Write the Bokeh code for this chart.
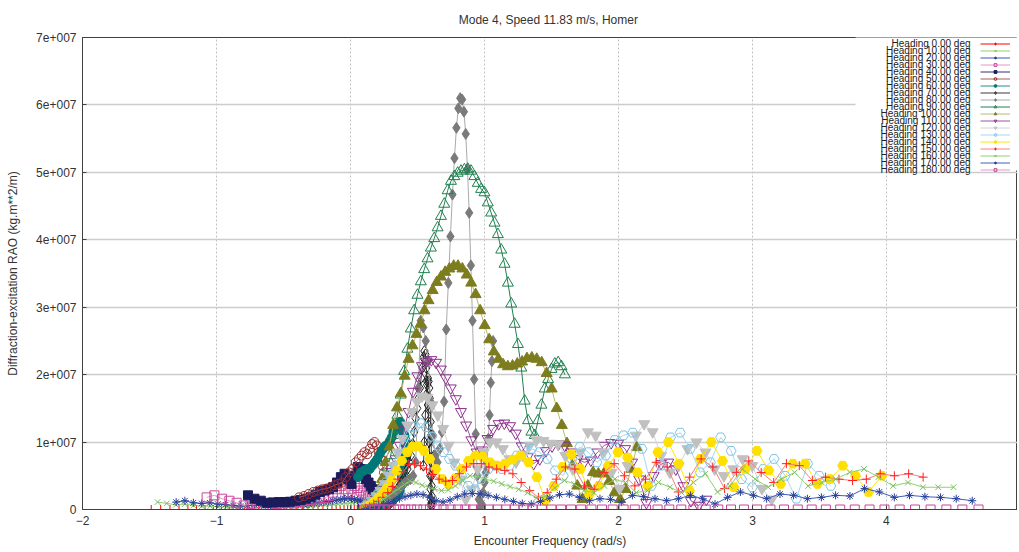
import math
from bokeh.plotting import figure
from bokeh.models import (FixedTicker, CustomJSTickFormatter, Legend, LegendItem,
                          Label, BoxAnnotation)
from bokeh.embed import file_html
from bokeh.resources import INLINE

# ---------------- data ----------------
TITLE = "Mode 4,  Speed 11.83 m/s, Homer"
X_LABEL = "Encounter Frequency (rad/s)"
Y_LABEL = "Diffraction-excitation RAO (kg.m**2/m)"
SHIP_SPEED = 11.83      # m/s
GRAVITY = 9.81
X_TICKS = [-2, -1, 0, 1, 2, 3, 4]
Y_TICKS = [0, 1e7, 2e7, 3e7, 4e7, 5e7, 6e7, 7e7]

WAVE_FREQ = [0.100, 0.125, 0.150, 0.175, 0.200, 0.225, 0.250, 0.275, 0.300, 0.325,
             0.350, 0.375, 0.400, 0.425, 0.450, 0.475, 0.500, 0.525, 0.550, 0.575,
             0.600, 0.625, 0.650, 0.675, 0.700, 0.725, 0.750, 0.775, 0.800, 0.825,
             0.850, 0.875, 0.900, 0.925, 0.950, 0.975, 1.000, 1.025, 1.050, 1.075,
             1.100, 1.125, 1.150, 1.175, 1.200, 1.225, 1.250, 1.275, 1.300, 1.325,
             1.350, 1.375, 1.400, 1.425, 1.450, 1.475, 1.500, 1.525, 1.550, 1.575,
             1.600]

HEADINGS = [0, 10, 20, 30, 40, 50, 60, 70, 80, 90, 100, 110, 120, 130, 140, 150, 160, 170, 180]

# RAO amplitude in units of 1e6 kg.m**2/m, one value per wave frequency
rao_h000 = [0, 0, 0, 0, 0, 0, 0, 0, 0, 0, 0, 0, 0, 0, 0, 0, 0, 0, 0, 0,
            0, 0, 0, 0, 0, 0, 0, 0, 0, 0, 0, 0, 0, 0, 0, 0, 0, 0, 0, 0,
            0, 0, 0, 0, 0, 0, 0, 0, 0, 0, 0, 0, 0, 0, 0, 0, 0, 0, 0, 0, 0]
rao_h010 = [0.05, 0.08, 0.1, 0.15, 0.2, 0.25, 0.3, 0.35, 0.4, 0.45, 0.5, 0.55, 0.6, 0.65, 0.7, 0.75, 0.8, 0.85, 0.9, 0.95,
            1.0, 1.05, 1.1, 1.1, 1.15, 1.2, 1.2, 1.15, 1.1, 1.0, 0.95, 0.9, 0.85, 0.8, 0.75, 0.7, 0.65, 0.6, 0.55, 0.5,
            0.45, 0.4, 0.4, 0.35, 0.35, 0.3, 0.3, 0.3, 0.3, 0.35, 0.4, 0.45, 0.4, 0.4, 0.5, 0.5, 0.6, 0.8, 0.7, 0.9, 1.1]
rao_h020 = [0.05, 0.08, 0.1, 0.15, 0.2, 0.25, 0.3, 0.35, 0.4, 0.45, 0.5, 0.55, 0.6, 0.65, 0.7, 0.75, 0.8, 0.85, 0.9, 0.9,
            0.95, 0.95, 1.0, 1.0, 1.0, 1.05, 1.1, 1.2, 1.3, 1.4, 1.5, 1.6, 1.7, 1.6, 1.5, 1.4, 1.3, 1.2, 1.1, 1.0,
            0.9, 0.8, 0.7, 0.8, 0.8, 0.7, 0.6, 0.5, 0.5, 0.6, 0.7, 0.6, 0.5, 0.6, 0.7, 0.8, 1.0, 0.9, 1.0, 1.3, 1.1]
rao_h030 = [0.1, 0.15, 0.2, 0.25, 0.3, 0.35, 0.4, 0.45, 0.5, 0.55, 0.6, 0.62, 0.64, 0.66, 0.68, 0.7, 0.7, 0.7, 0.7, 0.7,
            0.7, 0.8, 0.9, 1.0, 1.2, 1.4, 1.6, 1.8, 2.0, 2.2, 2.5, 2.8, 3.2, 3.5, 3.0, 2.5, 3.0, 3.5, 3.0, 2.5,
            2.0, 1.7, 1.6, 1.5, 1.4, 1.3, 1.1, 0.9, 1.0, 0.9, 0.8, 0.6, 0.5, 0.7, 0.8, 0.6, 1.0, 1.3, 1.6, 2.1, 1.8]
rao_h040 = [0.1, 0.15, 0.2, 0.25, 0.3, 0.35, 0.4, 0.45, 0.5, 0.55, 0.6, 0.65, 0.7, 0.75, 0.8, 0.85, 0.9, 1.0, 1.1, 1.2,
            1.3, 1.4, 1.5, 1.6, 1.7, 1.8, 1.9, 2.0, 2.0, 2.2, 2.5, 3.0, 3.5, 4.0, 4.5, 5.5, 6.0, 6.3, 5.0, 3.8,
            4.5, 5.3, 4.8, 4.0, 3.3, 3.0, 2.8, 2.6, 2.2, 1.8, 1.6, 1.4, 1.3, 1.15, 1.1, 1.1, 1.05, 1.0, 1.3, 1.6, 2.1]
rao_h050 = [0.1, 0.15, 0.2, 0.25, 0.3, 0.35, 0.4, 0.45, 0.5, 0.55, 0.6, 0.7, 0.8, 0.9, 1.0, 1.1, 1.2, 1.3, 1.4, 1.5,
            1.6, 1.7, 1.8, 1.9, 2.0, 2.1, 2.2, 2.3, 2.4, 2.7, 3.0, 3.5, 4.0, 4.5, 5.5, 6.5, 7.5, 8.5, 9.5, 10.0,
            9.7, 9.0, 8.2, 8.5, 8.0, 7.5, 7.0, 6.0, 5.5, 4.8, 4.0, 3.8, 3.6, 3.3, 3.1, 3.0, 2.8, 2.6, 2.3, 2.0, 1.8]
rao_h060 = [0.1, 0.2, 0.3, 0.4, 0.5, 0.6, 0.7, 0.8, 0.9, 1.0, 1.1, 1.2, 1.3, 1.5, 1.7, 1.9, 2.1, 2.4, 2.8, 3.5,
            4.8, 5.5, 6.0, 6.5, 6.8, 7.2, 7.6, 8.0, 8.4, 8.8, 9.2, 9.6, 10.0, 10.3, 10.7, 11.0, 11.2, 11.5, 12.0, 12.5,
            13.0, 12.8, 12.7, 12.5, 12.2, 11.5, 10.7, 10.2, 9.7, 9.5, 9.2, 8.8, 8.2, 7.5, 7.0, 6.5, 6.0, 6.0, 5.8, 5.5, 4.8]
rao_h070 = [0.1, 0.2, 0.3, 0.4, 0.5, 0.7, 0.9, 1.1, 1.3, 1.6, 1.9, 2.2, 2.6, 3.0, 3.5, 4.0, 4.6, 5.2, 6.0, 7.0,
            8.0, 9.7, 11.5, 13.5, 15.0, 16.5, 18.0, 19.5, 21.0, 22.5, 23.5, 23.0, 21.0, 18.5, 15.5, 12.5, 10.0, 7.5, 5.0, 3.0,
            1.5, 0.8, 0.5, 1.0, 2.0, 3.5, 5.0, 7.0, 9.0, 11.0, 13.0, 15.0, 16.5, 18.0, 19.0, 19.5, 19.0, 17.0, 14.0, 10.0, 6.5]
rao_h080 = [0.1, 0.2, 0.3, 0.5, 0.7, 0.9, 1.1, 1.4, 1.7, 2.0, 2.4, 2.8, 3.2, 3.6, 4.0, 4.3, 4.5, 5.0, 7.0, 18.0,
            28.0, 27.0, 25.0, 22.0, 16.0, 11.0, 8.0, 7.0, 9.0, 11.5, 16.0, 26.7, 33.6, 40.5, 46.7, 52.1, 56.6, 59.5, 61.0, 60.8,
            59.0, 55.7, 50.5, 44.0, 36.2, 28.0, 19.3, 11.2, 5.0, 1.5, 0.3, 0.8, 2.5, 4.0, 5.5, 7.0, 10.5, 14.0, 18.8, 22.0, 25.0]
rao_h090 = [0.3, 0.5, 0.9, 1.5, 2.3, 3.3, 4.6, 6.2, 8.0, 11.0, 14.0, 17.0, 20.5, 23.8, 26.8, 29.5, 31.8, 33.8, 35.6, 37.2,
            38.8, 40.2, 41.8, 43.5, 45.3, 47.3, 48.7, 49.4, 49.9, 50.2, 50.4, 50.5, 50.2, 49.4, 48.4, 47.5, 47.0, 45.5, 44.0, 42.5,
            40.8, 38.5, 36.4, 33.6, 30.5, 27.5, 24.5, 21.0, 16.1, 13.2, 11.5, 11.0, 13.2, 15.5, 17.9, 19.3, 20.8, 21.6, 21.8, 21.2, 20.0]
rao_h100 = [0.5, 0.8, 1.3, 2.0, 2.8, 4.5, 7.0, 9.3, 12.5, 15.1, 17.2, 19.8, 22.3, 24.3, 26.0, 27.5, 29.5, 31.0, 32.5, 33.7,
            34.5, 35.2, 35.7, 36.1, 36.1, 35.7, 34.8, 33.6, 31.9, 29.5, 27.3, 25.2, 23.4, 22.3, 21.5, 21.2, 21.3, 21.6, 21.9, 22.4,
            22.5, 22.3, 21.8, 20.2, 17.9, 15.0, 12.5, 9.8, 6.5, 3.5, 1.5, 3.5, 5.5, 5.3, 5.3, 4.2, 2.5, 1.5, 3.0, 6.0, 9.2]
rao_h110 = [0.3, 0.5, 0.9, 1.4, 2.0, 2.9, 4.0, 5.6, 7.5, 9.5, 11.8, 14.5, 17.5, 19.8, 21.3, 22.0, 22.2, 21.8, 20.8, 19.5,
            18.0, 16.4, 14.5, 12.5, 10.3, 8.5, 8.8, 10.5, 12.0, 12.7, 12.8, 12.4, 11.3, 9.4, 7.8, 6.8, 7.5, 8.7, 9.4, 9.7,
            9.5, 8.5, 7.5, 7.0, 7.3, 8.5, 9.5, 9.9, 9.8, 9.0, 7.0, 4.5, 1.0, 5.0, 6.8, 7.0, 6.0, 3.5, 1.3, 0.6, 1.5]
rao_h120 = [0.4, 0.8, 1.3, 2.0, 2.8, 3.8, 5.0, 6.5, 8.5, 10.5, 12.5, 14.5, 16.0, 16.8, 16.6, 15.5, 14.0, 12.0, 9.5, 7.0,
            4.5, 1.5, 3.0, 6.0, 8.5, 10.0, 10.0, 9.0, 7.5, 7.0, 8.0, 9.5, 10.3, 10.2, 9.8, 9.7, 8.0, 6.0, 8.5, 11.5,
            11.0, 8.5, 5.5, 3.1, 6.5, 11.0, 12.7, 11.5, 8.0, 5.5, 6.5, 9.0, 10.0, 8.5, 6.0, 5.0, 6.0, 7.5, 6.5, 3.1, 1.5]
rao_h130 = [0.5, 1.0, 1.5, 2.2, 3.0, 4.0, 5.2, 6.5, 8.0, 9.5, 11.0, 12.3, 12.8, 12.2, 10.8, 9.5, 8.5, 7.5, 6.5, 5.0,
            3.5, 3.0, 4.5, 6.0, 6.5, 6.0, 6.5, 8.0, 9.2, 9.0, 8.5, 7.5, 5.8, 5.0, 7.5, 9.3, 8.5, 7.0, 8.0, 10.3,
            11.0, 11.4, 9.0, 3.5, 6.5, 10.7, 11.4, 9.0, 5.5, 7.0, 10.7, 8.7, 4.5, 3.3, 6.0, 7.5, 5.0, 1.6, 6.8, 5.0, 3.5]
rao_h140 = [0.3, 0.6, 1.0, 1.6, 2.3, 3.2, 4.3, 5.7, 7.2, 8.5, 9.3, 9.4, 8.7, 7.5, 6.0, 4.5, 3.8, 4.6, 6.0, 7.2,
            8.0, 7.8, 7.0, 6.5, 6.8, 7.4, 8.0, 7.0, 4.8, 1.3, 3.5, 6.3, 8.2, 6.0, 2.3, 3.5, 6.5, 8.5, 7.7, 5.5,
            3.5, 8.5, 10.0, 6.8, 2.8, 7.5, 10.0, 7.2, 3.3, 6.0, 8.7, 5.8, 3.8, 6.8, 6.8, 3.8, 4.5, 6.5, 5.0, 2.6, 5.0]
rao_h150 = [0.2, 0.4, 0.8, 1.2, 1.8, 2.5, 3.4, 4.5, 5.6, 6.7, 6.8, 6.5, 6.0, 5.2, 4.5, 4.2, 4.3, 5.3, 6.3, 6.8,
            6.8, 6.3, 6.0, 5.8, 5.3, 4.0, 2.8, 1.8, 2.5, 4.5, 6.3, 6.0, 3.5, 3.0, 5.5, 6.8, 5.0, 3.5, 4.5, 7.0,
            6.3, 2.6, 4.8, 7.5, 6.3, 3.1, 5.5, 7.2, 5.5, 4.0, 6.8, 6.5, 4.3, 4.8, 4.5, 4.3, 4.5, 5.3, 5.0, 5.3, 4.8]
rao_h160 = [0.2, 0.4, 0.7, 1.0, 1.5, 2.0, 2.6, 3.1, 3.7, 4.2, 4.0, 3.6, 3.3, 3.0, 2.8, 2.9, 3.5, 4.3, 5.0, 4.9,
            4.5, 4.2, 3.8, 3.4, 3.0, 2.5, 1.7, 2.0, 3.2, 4.3, 3.8, 2.8, 2.5, 3.5, 4.5, 4.0, 2.5, 2.8, 4.0, 3.3,
            2.5, 4.0, 5.3, 2.6, 3.5, 6.0, 4.5, 3.3, 4.5, 5.5, 3.5, 4.0, 4.5, 5.5, 6.0, 4.8, 3.5, 4.0, 3.3, 3.3, 3.3]
rao_h170 = [0.1, 0.2, 0.3, 0.5, 0.7, 0.9, 1.2, 1.6, 1.9, 2.1, 2.3, 2.2, 1.8, 1.3, 1.1, 1.4, 1.9, 2.3, 2.4, 2.3,
            2.1, 1.8, 1.5, 1.2, 0.9, 0.8, 1.2, 1.7, 2.2, 2.3, 1.8, 1.3, 1.6, 1.5, 1.1, 2.1, 1.9, 1.6, 1.3, 1.6,
            2.1, 1.6, 0.8, 1.8, 2.6, 2.1, 1.6, 2.3, 2.1, 1.6, 1.8, 2.1, 2.0, 3.1, 2.6, 1.8, 2.1, 1.9, 1.8, 1.6, 1.3]
rao_h180 = [0, 0, 0, 0, 0, 0, 0, 0, 0, 0, 0, 0, 0, 0, 0, 0, 0, 0, 0, 0,
            0, 0, 0, 0, 0, 0, 0, 0, 0, 0, 0, 0, 0, 0, 0, 0, 0, 0, 0, 0,
            0, 0, 0, 0, 0, 0, 0, 0, 0, 0, 0, 0, 0, 0, 0, 0, 0, 0, 0, 0, 0]

RAO = [rao_h000, rao_h010, rao_h020, rao_h030, rao_h040, rao_h050, rao_h060, rao_h070, rao_h080, rao_h090,
       rao_h100, rao_h110, rao_h120, rao_h130, rao_h140, rao_h150, rao_h160, rao_h170, rao_h180]

# ---------------- styles ----------------
# (line colour, marker, marker colour, filled, size)
STYLES = [
    ("#ff0000", "cross", "#ff0000", False, 9),
    ("#8fcf6f", "x", "#7cc060", False, 8),
    ("#3a58b0", "asterisk", "#2a3f9a", False, 8),
    ("#e498c8", "square", "#c8479a", False, 9),
    ("#30306e", "square", "#1c1c5c", True, 9),
    ("#a85a5a", "circle", "#9a2a2a", False, 9),
    ("#209090", "circle", "#007878", True, 9),
    ("#3a3a3a", "diamond", "#202020", False, 11),
    ("#aaaaaa", "diamond", "#7a7a7a", True, 11),
    ("#208050", "triangle", "#208050", False, 11),
    ("#b8b870", "triangle", "#7d7d1f", True, 11),
    ("#a050a0", "inverted_triangle", "#8c2f8c", False, 11),
    ("#d4d4d4", "inverted_triangle", "#c0c0c0", True, 11),
    ("#a8d8ee", "hex", "#80c4e4", False, 10),
    ("#ffe800", "hex", "#ffe000", True, 10),
    ("#f08080", "cross", "#ff2020", False, 9),
    ("#90d070", "x", "#7cc060", False, 8),
    ("#4060b8", "asterisk", "#2a3f9a", False, 8),
    ("#e498c8", "square", "#c8479a", False, 9),
]

FONT = "Liberation Sans"
W, H = 1017, 551
B_LEFT, B_TOP, B_BOTTOM = 82, 36, 42
FRAME_W = W - B_LEFT
FRAME_H = H - B_TOP - B_BOTTOM

p = figure(width=W, height=H, output_backend="svg", toolbar_location=None,
           x_range=(-2, 4.978), y_range=(0, 7e7),
           min_border_left=B_LEFT, min_border_right=0, min_border_top=B_TOP, min_border_bottom=B_BOTTOM,
           background_fill_color="white", border_fill_color="white")

p.title.text = TITLE
p.title.align = "center"
p.title.text_font = FONT
p.title.text_font_size = "12px"
p.title.text_font_style = "normal"
p.title.text_color = "#333333"
p.title.standoff = 21

p.outline_line_color = "#404040"
p.outline_line_width = 1

for ax in (p.xaxis[0], p.yaxis[0]):
    ax.axis_line_color = "#404040"
    ax.major_tick_in = 4
    ax.major_tick_out = 0
    ax.major_tick_line_color = "#404040"
    ax.minor_tick_line_color = None
    ax.major_label_text_font = FONT
    ax.major_label_text_font_size = "12px"
    ax.major_label_text_color = "#333333"
    ax.axis_label_text_font = FONT
    ax.axis_label_text_font_size = "12px"
    ax.axis_label_text_font_style = "normal"
    ax.axis_label_text_color = "#333333"

p.xaxis.ticker = FixedTicker(ticks=X_TICKS)
p.yaxis.ticker = FixedTicker(ticks=Y_TICKS)
p.yaxis.formatter = CustomJSTickFormatter(
    code="return tick == 0 ? '0' : (tick / 1e7).toFixed(0) + 'e+007';")
p.xaxis.axis_label = X_LABEL
p.yaxis.axis_label = Y_LABEL
p.xaxis.major_label_standoff = 6
p.xaxis.axis_label_standoff = 6
p.yaxis.major_label_standoff = 6
p.yaxis.axis_label_standoff = 13

p.ygrid.grid_line_color = "#cccccc"
p.ygrid.grid_line_width = 1.5
p.xgrid.grid_line_color = "#c0c0c0"
p.xgrid.grid_line_width = 1
p.xgrid.grid_line_dash = "2 2"

items = []
for heading, vals, (lc, mk, mc, filled, sz) in zip(HEADINGS, RAO, STYLES):
    c = SHIP_SPEED * math.cos(math.radians(heading)) / GRAVITY
    enc = [w - w * w * c for w in WAVE_FREQ]
    yv = [v * 1e6 for v in vals]
    r1 = p.line(enc, yv, line_color=lc, line_width=1)
    r2 = p.scatter(enc, yv, marker=mk, size=sz, line_color=mc, line_width=1,
                   fill_color=mc if filled else None, fill_alpha=1 if filled else 0)
    items.append(LegendItem(label=" ", renderers=[r1, r2]))

# legend: white panel, key samples on the right, right-aligned texts to their left
# (screen units of annotations are measured from the frame's bottom-left corner)
BOX_LEFT, BOX_DEPTH = 773, 134          # from frame left / below frame top
ROW0, ROW_STEP, TEXT_RIGHT = 6.5, 7.0, 888

p.add_layout(BoxAnnotation(left=BOX_LEFT, right=FRAME_W + 5, top=FRAME_H, bottom=FRAME_H - BOX_DEPTH,
                           left_units="screen", right_units="screen",
                           top_units="screen", bottom_units="screen",
                           fill_color="white", fill_alpha=1.0, line_alpha=0))

legend = Legend(items=items, location="top_right",
                background_fill_alpha=0, border_line_alpha=0, margin=0, padding=3,
                label_text_font_size="1px", label_width=4, label_standoff=0,
                glyph_height=7, glyph_width=30, label_height=7, spacing=0)
p.add_layout(legend)

for i, heading in enumerate(HEADINGS):
    p.add_layout(Label(x=TEXT_RIGHT, y=FRAME_H - (ROW0 + ROW_STEP * i), x_units="screen", y_units="screen",
                       text="Heading %.2f deg" % heading, text_align="right", text_baseline="middle",
                       text_font=FONT, text_font_size="10px", text_color="#222222"))

open("out.html", "w").write(file_html(p, INLINE))
